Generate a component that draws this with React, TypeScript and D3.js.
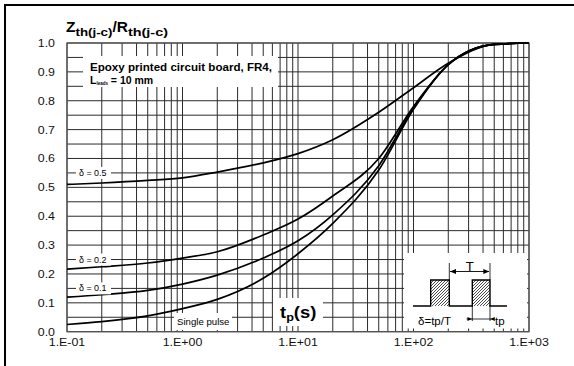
import React from 'react';
import * as d3 from 'd3';

// ---- data ----
const tpValues = [0.1, 0.2, 0.5, 1, 2, 5, 10, 20, 50, 100, 200, 500, 1000];
const delta05 = [0.51, 0.515, 0.524, 0.533, 0.553, 0.585, 0.617, 0.665, 0.76, 0.845, 0.93, 0.995, 1.0];
const delta02 = [0.217, 0.225, 0.238, 0.255, 0.277, 0.335, 0.39, 0.47, 0.6, 0.78, 0.925, 0.995, 1.0];
const delta01 = [0.12, 0.128, 0.143, 0.165, 0.196, 0.255, 0.315, 0.405, 0.575, 0.775, 0.925, 0.995, 1.0];
const singlePulse = [0.025, 0.035, 0.055, 0.08, 0.112, 0.185, 0.27, 0.375, 0.56, 0.77, 0.925, 0.995, 1.0];
const seriesList = [delta05, delta02, delta01, singlePulse];

const xTickValues = [0.1, 1, 10, 100, 1000];
const xTickLabels = ['1.E-01', '1.E+00', '1.E+01', '1.E+02', '1.E+03'];
const yTickValues = [0, 0.1, 0.2, 0.3, 0.4, 0.5, 0.6, 0.7, 0.8, 0.9, 1.0];
const yTickLabels = ['0.0', '0.1', '0.2', '0.3', '0.4', '0.5', '0.6', '0.7', '0.8', '0.9', '1.0'];

const curveLabels = [
  { text: 'δ = 0.5', t: 0.1, v: 0.55 },
  { text: 'δ = 0.2', t: 0.1, v: 0.25 },
  { text: 'δ = 0.1', t: 0.1, v: 0.15 },
];

const FONT = 'Liberation Sans, Arial, Helvetica, sans-serif';

export default function App() {
  const W = 574, H = 366;
  const x = d3.scaleLog().domain([0.1, 1000]).range([67, 529]);
  const y = d3.scaleLinear().domain([0, 1]).range([331.7, 43]);

  const vGrid: number[] = [];
  [0.1, 1, 10, 100].forEach((d) => {
    for (let m = 1; m <= 9; m++) vGrid.push(d * m);
  });
  vGrid.push(1000);
  const hGrid = d3.range(0, 1.0001, 0.05);

  const line = d3
    .line<[number, number]>()
    .x((d) => x(d[0]))
    .y((d) => y(d[1]))
    .curve(d3.curveMonotoneX);

  const sx = 1.18;
  const gridColor = '#2b2b2b';

  return (
    <svg width={W} height={H} style={{ position: 'absolute', left: 0, top: 0 }} fontFamily={FONT}>
      <defs>
        <pattern id="hatch" patternUnits="userSpaceOnUse" width="3" height="3">
          <path d="M-1,1 l2,-2 M0,3 l3,-3 M2,4 l2,-2" stroke="#000" strokeWidth="0.7" />
        </pattern>
      </defs>
      <rect x={0} y={0} width={W} height={H} fill="#fff" />
      {/* outer frame */}
      <rect x={5} y={5} width={650} height={450} fill="none" stroke="#000" strokeWidth={2} />

      {/* grid */}
      {hGrid.map((v, i) => (
        <line key={'h' + i} x1={x(0.1)} x2={x(1000)} y1={y(v)} y2={y(v)} stroke={gridColor} strokeWidth={1} />
      ))}
      {vGrid.map((t, i) => (
        <line key={'v' + i} x1={x(t)} x2={x(t)} y1={y(0)} y2={y(1)} stroke={gridColor} strokeWidth={1} />
      ))}
      <rect x={x(0.1)} y={y(1)} width={x(1000) - x(0.1)} height={y(0) - y(1)} fill="none" stroke="#555" strokeWidth={1.2} />

      {/* curves */}
      {seriesList.map((s, i) => (
        <path
          key={'s' + i}
          d={line(tpValues.map((t, j) => [t, s[j]] as [number, number])) || ''}
          fill="none"
          stroke="#000"
          strokeWidth={1.7}
        />
      ))}

      {/* legend box */}
      <rect x={83} y={56} width={195} height={31} fill="#fff" />
      <text x={90} y={70.5} fontSize={10.5} fontWeight="bold" textLength={182} lengthAdjust="spacingAndGlyphs">
        Epoxy printed circuit board, FR4,
      </text>
      <text x={90} y={83.5} fontSize={10.5} fontWeight="bold">
        L<tspan fontSize={4.5} dy={1}>leads</tspan>
        <tspan dy={-1}> = 10 mm</tspan>
      </text>

      {/* curve labels */}
      {curveLabels.map((c, i) => (
        <g key={'cl' + i}>
          <rect x={76} y={y(c.v) - 6} width={35} height={12} fill="#fff" />
          <g transform={`translate(${79},${y(c.v) + 3})`}>
            <text fontSize={8.5} transform={`scale(1.05,1)`}>{c.text}</text>
          </g>
        </g>
      ))}
      <rect x={174} y={313} width={58} height={17} fill="#fff" />
      <g transform="translate(177,324.5) scale(1.12,1)">
        <text fontSize={8.6}>Single pulse</text>
      </g>

      {/* tp(s) box */}
      <rect x={273} y={298} width={50} height={28} fill="#fff" />
      <g transform="translate(280,318) scale(1.15,1)">
        <text fontSize={16} fontWeight="bold">
          t<tspan fontSize={11} dy={3}>p</tspan>
          <tspan dy={-3}>(s)</tspan>
        </text>
      </g>

      {/* inset */}
      <rect x={404} y={253} width={123} height={75.5} fill="#fff" />
      <rect x={430.7} y={280} width={18.6} height={26} fill="url(#hatch)" />
      <rect x={472.3} y={280} width={17.7} height={26} fill="url(#hatch)" />
      <path d="M413,306 H430.7 V280 H449.3 V306 H472.3 V280 H490 V306 H507" fill="none" stroke="#000" strokeWidth={1.4} />
      <line x1={449.3} x2={449.3} y1={263} y2={280} stroke="#000" strokeWidth={0.8} />
      <line x1={490} x2={490} y1={263} y2={280} stroke="#000" strokeWidth={0.8} />
      <line x1={450} x2={489} y1={271.5} y2={271.5} stroke="#000" strokeWidth={0.9} />
      <path d="M450,271.5 l6,-2.5 v5 z" fill="#000" />
      <path d="M489.3,271.5 l-6,-2.5 v5 z" fill="#000" />
      <g transform="translate(469.7,270.5) scale(1.1,1)">
        <text fontSize={12} textAnchor="middle">T</text>
      </g>
      <line x1={472.3} x2={472.3} y1={306} y2={321} stroke="#000" strokeWidth={0.8} />
      <line x1={490} x2={490} y1={306} y2={321} stroke="#000" strokeWidth={0.8} />
      <line x1={466.5} x2={494} y1={319} y2={319} stroke="#000" strokeWidth={0.8} />
      <path d="M472,319 l-4.5,-2 v4 z" fill="#000" />
      <path d="M490.3,319 l4.5,-2 v4 z" fill="#000" />
      <g transform="translate(418,324.5) scale(1.05,1)">
        <text fontSize={11}>δ=tp/T</text>
      </g>
      <g transform="translate(495,324.5) scale(1.05,1)">
        <text fontSize={11}>tp</text>
      </g>

      {/* title */}
      <text x={66} y={32} fontWeight="bold" fontSize={15.5}>
        <tspan>Z</tspan>
        <tspan fontSize={11.5} dy={3.5} textLength={37} lengthAdjust="spacingAndGlyphs">th(j-c)</tspan>
        <tspan dy={-3.5}>/R</tspan>
        <tspan fontSize={11.5} dy={3.5} textLength={40} lengthAdjust="spacingAndGlyphs">th(j-c)</tspan>
      </text>

      {/* y tick labels */}
      {yTickValues.map((v, i) => (
        <g key={'yl' + i} transform={`translate(55,${y(v) + 4}) scale(${sx},1)`}>
          <text fontSize={10.5} textAnchor="end" fill="#111">{yTickLabels[i]}</text>
        </g>
      ))}
      {/* x tick labels */}
      {xTickValues.map((t, i) => (
        <g key={'xl' + i} transform={`translate(${x(t)},346) scale(${sx},1)`}>
          <text fontSize={10.5} textAnchor="middle" fill="#111">{xTickLabels[i]}</text>
        </g>
      ))}
    </svg>
  );
}
